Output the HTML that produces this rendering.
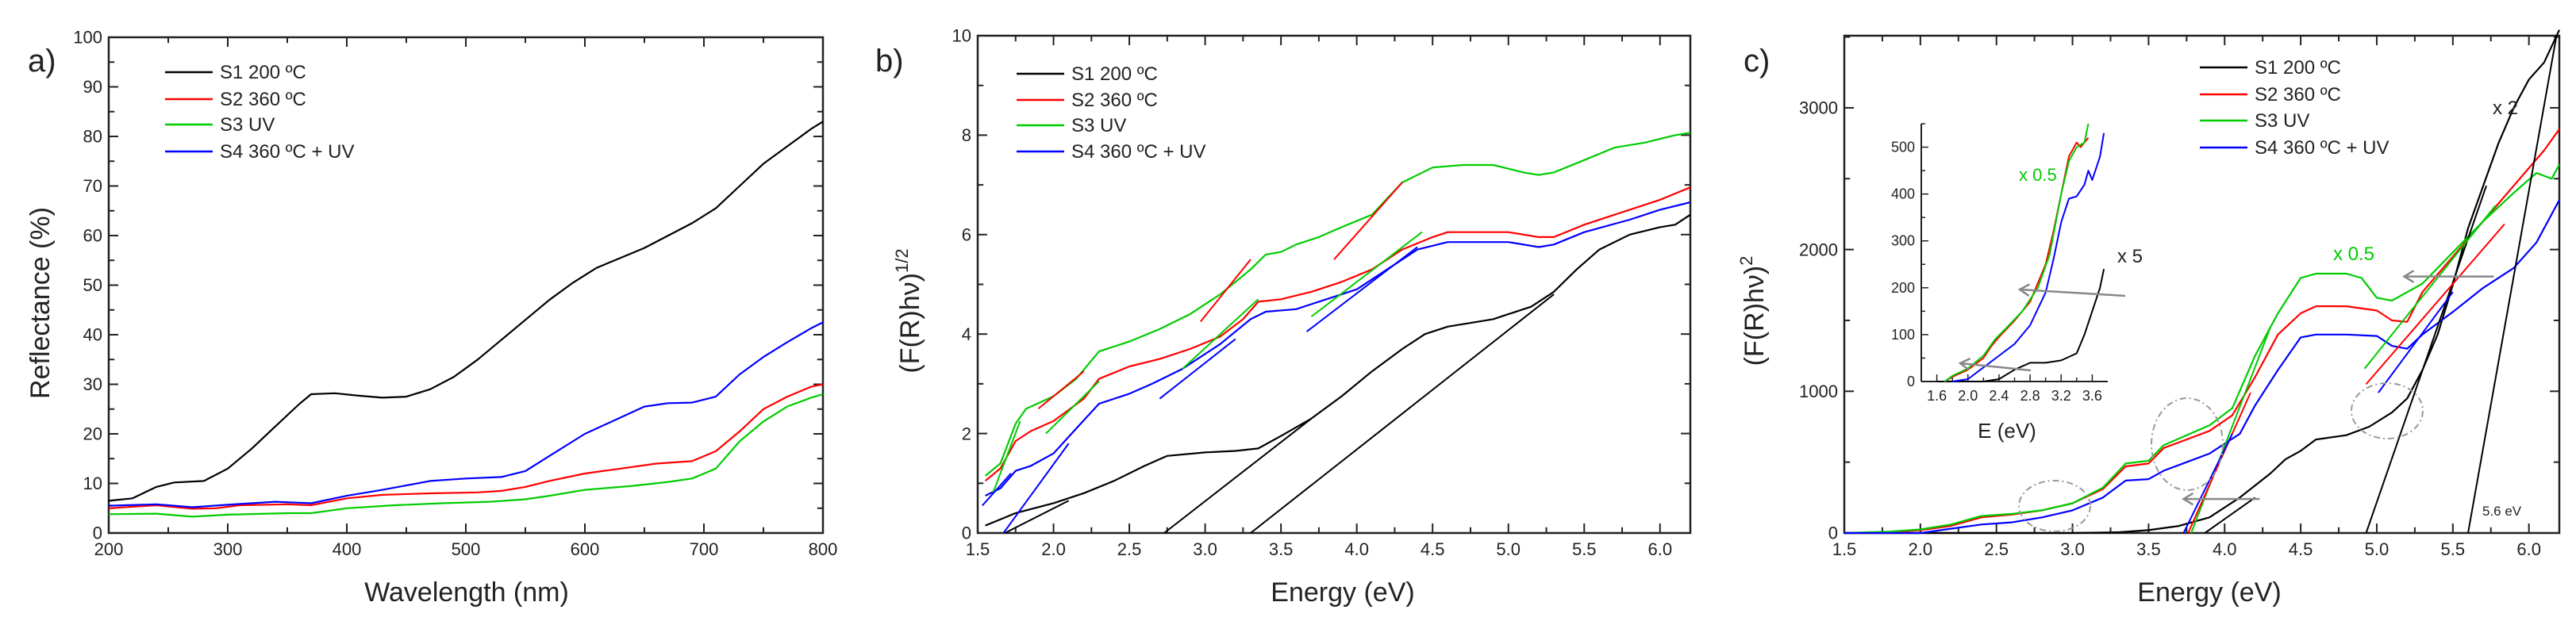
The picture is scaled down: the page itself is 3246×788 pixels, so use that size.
<!DOCTYPE html>
<html><head><meta charset="utf-8"><style>
html,body{margin:0;padding:0;background:#fff;}
svg{display:block;font-family:"Liberation Sans",sans-serif;}
</style></head><body>
<svg id="fig" width="3246" height="788" viewBox="0 0 3246 788" xmlns="http://www.w3.org/2000/svg"></svg>
<script>
// ---------- Panel a data ----------
const aX_S1=[200,220,240,255,280,300,320,340,360,370,390,410,430,450,470,490,510,530,550,570,590,610,630,650,670,690,710,730,750,770,790,800];
const aY_S1=[6.5,7,9.3,10.2,10.5,13,17,21.5,26,28,28.2,27.7,27.3,27.5,29,31.5,35,39,43,47,50.5,53.5,55.5,57.5,60,62.5,65.5,70,74.5,78,81.5,83];
const aX_S2=[200,240,270,290,310,350,370,400,430,470,510,530,550,570,600,630,660,690,710,730,750,770,790,800];
const aY_S2=[5,5.6,4.9,5,5.6,5.8,5.6,7,7.7,8,8.2,8.5,9.3,10.5,12,13,14,14.5,16.5,20.5,25,27.5,29.5,30];
const aX_S3=[200,240,270,300,350,370,400,440,480,520,550,570,600,640,670,690,710,730,750,770,790,800];
const aY_S3=[3.8,3.9,3.3,3.7,4,4,5,5.6,6,6.3,6.8,7.5,8.7,9.5,10.3,11,13,18.5,22.5,25.5,27.3,28];
const aX_S4=[200,240,270,300,340,370,400,430,470,500,530,550,570,600,630,650,670,690,710,730,750,770,790,800];
const aY_S4=[5.5,5.8,5.2,5.7,6.3,6,7.5,8.7,10.5,11,11.3,12.5,15.5,20,23.3,25.5,26.2,26.3,27.5,32,35.5,38.5,41.3,42.5];
const aXTicks=[200,300,400,500,600,700,800];
const aYTicks=[0,10,20,30,40,50,60,70,80,90,100];
// ---------- Panel b data ----------
const bX_S1=[1.55,1.75,2.0,2.2,2.4,2.6,2.75,3.0,3.2,3.35,3.5,3.7,3.9,4.1,4.3,4.45,4.6,4.7,4.9,5.0,5.15,5.3,5.45,5.6,5.8,6.0,6.1,6.2];
const bY_S1=[0.15,0.4,0.6,0.8,1.05,1.35,1.55,1.62,1.65,1.7,1.95,2.3,2.75,3.25,3.7,4.0,4.15,4.2,4.3,4.4,4.55,4.85,5.3,5.7,6.0,6.15,6.2,6.4];
const bX_S2=[1.55,1.65,1.75,1.85,2.0,2.2,2.3,2.5,2.7,2.9,3.1,3.25,3.35,3.5,3.7,3.9,4.1,4.3,4.5,4.6,4.8,5.0,5.2,5.3,5.5,5.8,6.0,6.2];
const bY_S2=[1.05,1.3,1.85,2.05,2.25,2.7,3.1,3.35,3.5,3.7,3.95,4.3,4.65,4.7,4.85,5.05,5.3,5.7,5.95,6.05,6.05,6.05,5.95,5.95,6.2,6.5,6.7,6.95];
const bX_S3=[1.55,1.65,1.75,1.82,2.0,2.15,2.3,2.5,2.7,2.9,3.1,3.3,3.4,3.5,3.6,3.75,3.9,4.1,4.3,4.5,4.7,4.9,5.1,5.2,5.3,5.5,5.7,5.9,6.1,6.2];
const bY_S3=[1.15,1.4,2.2,2.5,2.75,3.1,3.65,3.85,4.1,4.4,4.8,5.3,5.6,5.65,5.8,5.95,6.15,6.4,7.05,7.35,7.4,7.4,7.25,7.2,7.25,7.5,7.75,7.85,8.0,8.05];
const bX_S4=[1.55,1.65,1.75,1.85,2.0,2.15,2.3,2.5,2.65,2.85,3.1,3.3,3.4,3.6,3.8,4.0,4.2,4.4,4.6,4.8,5.0,5.2,5.3,5.5,5.8,6.0,6.2];
const bY_S4=[0.75,0.9,1.25,1.35,1.6,2.1,2.6,2.8,3.0,3.3,3.8,4.3,4.45,4.5,4.7,4.9,5.3,5.7,5.85,5.85,5.85,5.75,5.8,6.05,6.3,6.5,6.65];
const bFitColors=["#000","#000","#000","red","red","red","#0c0","#0c0","#0c0","#0c0","blue","blue","blue","blue"];
const bFitX1=[1.68,2.73,3.3,1.9,2.97,3.85,1.6,1.95,2.85,3.7,1.53,1.67,2.7,3.67];
const bFitY1=[0,0,0,2.5,4.25,5.5,0.8,2.0,3.3,4.35,0.55,0,2.7,4.05];
const bFitX2=[2.1,3.7,5.3,2.2,3.3,4.3,1.78,2.3,3.35,4.43,1.72,2.1,3.2,4.4];
const bFitY2=[0.65,2.3,4.8,3.25,5.5,7.05,2.25,3.05,4.7,6.05,1.2,1.8,3.9,5.75];
const bXTicks=[1.5,2.0,2.5,3.0,3.5,4.0,4.5,5.0,5.5,6.0];
const bYTicks=[0,2,4,6,8,10];
// ---------- Panel c data ----------
const cX_S1=[1.5,3.0,3.3,3.5,3.7,3.9,4.1,4.3,4.4,4.5,4.6,4.8,4.95,5.1,5.2,5.3,5.4,5.5,5.6,5.7,5.8,5.9,6.0,6.1,6.2];
const cY_S1=[0,0,5,20,50,110,250,420,520,580,660,690,750,850,950,1150,1400,1750,2150,2450,2750,3000,3200,3320,3550];
const cX_S2=[1.5,1.8,2.0,2.2,2.4,2.6,2.8,3.0,3.2,3.35,3.5,3.6,3.75,3.9,4.05,4.2,4.35,4.5,4.6,4.8,5.0,5.1,5.2,5.3,5.5,5.7,5.9,6.1,6.2];
const cY_S2=[0,5,20,50,110,130,160,210,310,470,490,600,660,720,830,1100,1400,1550,1600,1600,1570,1500,1490,1700,1950,2200,2450,2700,2850];
const cX_S3=[1.5,1.8,2.0,2.2,2.4,2.6,2.8,3.0,3.2,3.35,3.5,3.6,3.75,3.9,4.05,4.2,4.35,4.5,4.6,4.8,4.9,5.0,5.1,5.3,5.5,5.7,5.9,6.05,6.15,6.2];
const cY_S3=[0,10,25,60,120,135,160,210,320,490,510,620,690,760,880,1250,1550,1800,1830,1830,1800,1660,1640,1760,1980,2200,2400,2540,2500,2600];
const cX_S4=[1.5,2.0,2.2,2.4,2.6,2.8,3.0,3.2,3.35,3.5,3.6,3.75,3.9,4.1,4.2,4.35,4.5,4.6,4.8,5.0,5.1,5.2,5.3,5.5,5.7,5.9,6.05,6.2];
const cY_S4=[0,0,30,60,75,110,160,250,370,380,440,500,560,700,900,1150,1380,1400,1400,1390,1320,1300,1400,1560,1730,1870,2050,2350];
const cFitColors=["#0c0","red","blue","#000","#000","#000","#0c0","red","blue"];
const cFitX1=[3.78,3.76,3.73,3.87,4.93,5.6,4.92,4.93,5.01];
const cFitY1=[0,0,0,0,0,0,1160,1050,990];
const cFitX2=[4.3,4.17,4.05,4.2,5.72,6.18,5.78,5.84,5.5];
const cFitY2=[1450,990,700,250,2450,3500,2310,2180,1700];
const cXTicks=[1.5,2.0,2.5,3.0,3.5,4.0,4.5,5.0,5.5,6.0];
const cYTicks=[0,1000,2000,3000];
// inset
const iX_S1=[1.6,2.2,2.4,2.6,2.8,3.0,3.2,3.4,3.5,3.6,3.7,3.75];
const iY_S1=[0,0,5,25,40,40,45,60,100,150,200,240];
const iX_S2=[1.7,1.8,2.0,2.2,2.3,2.4,2.6,2.8,3.0,3.1,3.2,3.3,3.4,3.45,3.5,3.55];
const iY_S2=[0,10,25,50,75,95,130,170,250,320,400,480,510,500,510,520];
const iX_S3=[1.7,1.8,2.0,2.2,2.35,2.5,2.7,2.9,3.05,3.2,3.3,3.4,3.5,3.55];
const iY_S3=[0,12,28,55,90,115,150,200,270,400,470,500,510,550];
const iX_S4=[1.8,2.0,2.2,2.4,2.6,2.8,3.0,3.1,3.2,3.3,3.4,3.5,3.55,3.6,3.7,3.75];
const iY_S4=[0,5,30,55,80,120,190,260,340,390,395,420,450,430,480,530];
const iXTicks=[1.6,2.0,2.4,2.8,3.2,3.6];
const iYTicks=[0,100,200,300,400,500];

const NS="http://www.w3.org/2000/svg";
const svg=document.getElementById('fig');
function mk(tag,attrs,parent){const e=document.createElementNS(NS,tag);for(const k in attrs)e.setAttribute(k,attrs[k]);(parent||svg).appendChild(e);return e;}
function txt(s,x,y,size,attrs,parent){const e=mk('text',Object.assign({x:x,y:y,'font-size':size,fill:'#222'},attrs||{}),parent);e.textContent=s;return e;}
function axes(name,L,R,T,B,x0,x1,y0,y1){
  const g=mk('g',{});
  
  
  const sx=v=>L+(v-x0)/(x1-x0)*(R-L), sy=v=>B-(v-y0)/(y1-y0)*(B-T);
  return {g,sx,sy,L,R,T,B};
}
function frame(ax,xt,yt,xminor,yminor,fmtX,fmtY,fs,tl){
  const g=ax.g;
  mk('rect',{x:ax.L,y:ax.T,width:ax.R-ax.L,height:ax.B-ax.T,fill:'none',stroke:'#222','stroke-width':2.5},g);
  const ticks=(vals,len,isX)=>vals.forEach(v=>{
    if(isX){const x=ax.sx(v);mk('line',{x1:x,x2:x,y1:ax.B,y2:ax.B-len,stroke:'#222','stroke-width':2},g);mk('line',{x1:x,x2:x,y1:ax.T,y2:ax.T+len,stroke:'#222','stroke-width':2},g);}
    else{const y=ax.sy(v);mk('line',{x1:ax.L,x2:ax.L+len,y1:y,y2:y,stroke:'#222','stroke-width':2},g);mk('line',{x1:ax.R,x2:ax.R-len,y1:y,y2:y,stroke:'#222','stroke-width':2},g);}
  });
  ticks(xt,tl,true);ticks(yt,tl,false);ticks(xminor,tl*0.6,true);ticks(yminor,tl*0.6,false);
  xt.forEach(v=>{const t=txt(fmtX(v),ax.sx(v),ax.B+fs+6,fs,{'text-anchor':'middle'},g);});
  yt.forEach(v=>{const t=txt(fmtY(v),ax.L-8,ax.sy(v)+fs*0.35,fs,{'text-anchor':'end'},g);});
}
function series(ax,xs,ys,color,name,w){
  const d=xs.map((x,i)=>(i?'L':'M')+ax.sx(x).toFixed(1)+','+ax.sy(ys[i]).toFixed(1)).join('');
  const p=mk('path',{d:d,fill:'none',stroke:color,'stroke-width':w||2.2,'stroke-linejoin':'round'},ax.g);
  
  
}
function fits(ax,cols,x1,y1,x2,y2,prefix){
  cols.forEach((c,i)=>{const l=mk('line',{x1:ax.sx(x1[i]),y1:ax.sy(y1[i]),x2:ax.sx(x2[i]),y2:ax.sy(y2[i]),stroke:c,'stroke-width':2},ax.g);
    
    });
}
function legend(x,ys,labels,colors,prefix){
  labels.forEach((s,i)=>{const g=mk('g',{});
    
    
    mk('line',{x1:x,x2:x+60,y1:ys[i],y2:ys[i],stroke:colors[i],'stroke-width':2.5},g);
    txt(s,x+69,ys[i]+8,24,{},g);});
}
const cols=['#000','red','#0c0','blue'];
const labs=['S1 200 ºC','S2 360 ºC','S3 UV','S4 360 ºC + UV'];
const range=(a,b,s)=>{const r=[];for(let v=a;v<=b+1e-9;v+=s)r.push(+v.toFixed(4));return r;};

// Panel a
const A=axes('panel-a-reflectance',137,1037,47,672,200,800,0,100);
frame(A,aXTicks,aYTicks,range(250,750,100),range(5,95,10),v=>v,v=>v,22,12);
series(A,aX_S1,aY_S1,cols[0],'s1-reflectance');series(A,aX_S2,aY_S2,cols[1],'s2-reflectance');
series(A,aX_S3,aY_S3,cols[2],'s3-reflectance');series(A,aX_S4,aY_S4,cols[3],'s4-reflectance');
legend(208,[91,125,157,191],labs,cols,'a');
txt('a)',35,90,40,{});
txt('Wavelength (nm)',588,758,34,{'text-anchor':'middle',});
txt('Reflectance (%)',0,0,34,{'text-anchor':'middle',transform:'translate(62,382) rotate(-90)',});

// Panel b
const Bp=axes('panel-b-tauc-indirect',1232,2130,45,672,1.5,6.2,0,10);
frame(Bp,bXTicks,bYTicks,range(1.75,6.0,0.25).filter(v=>Math.abs(v*2-Math.round(v*2))>0.01),range(1,9,2),v=>v.toFixed(1),v=>v,22,12);
series(Bp,bX_S1,bY_S1,cols[0],'s1-tauc');series(Bp,bX_S2,bY_S2,cols[1],'s2-tauc');
series(Bp,bX_S3,bY_S3,cols[2],'s3-tauc');series(Bp,bX_S4,bY_S4,cols[3],'s4-tauc');
fits(Bp,bFitColors,bFitX1,bFitY1,bFitX2,bFitY2,'b');
legend(1281,[93,126,158,191],labs,cols,'b');
txt('b)',1103,90,40,{});
txt('Energy (eV)',1692,758,34,{'text-anchor':'middle',});
(function(){const t=mk('text',{'font-size':34,fill:'#222','text-anchor':'middle',transform:'translate(1158,392) rotate(-90)'});

t.innerHTML='(F(R)hν)<tspan font-size="22" dy="-14">1/2</tspan>';})();

// Panel c
const C=axes('panel-c-tauc-direct',2324,3225,45,672,1.5,6.2,0,3509);
frame(C,cXTicks,cYTicks,range(1.75,6.0,0.5),[500,1500,2500,3500].filter(v=>v<3509),v=>v.toFixed(1),v=>v,22,12);
series(C,cX_S1,cY_S1,cols[0],'s1-tauc-direct');series(C,cX_S2,cY_S2,cols[1],'s2-tauc-direct');
series(C,cX_S3,cY_S3,cols[2],'s3-tauc-direct');series(C,cX_S4,cY_S4,cols[3],'s4-tauc-direct');
fits(C,cFitColors,cFitX1,cFitY1,cFitX2,cFitY2,'c');
legend(2772,[85,119,152,186],labs,cols,'c');
txt('c)',2197,90,40,{});
txt('Energy (eV)',2784,758,34,{'text-anchor':'middle',});
(function(){const t=mk('text',{'font-size':34,fill:'#222','text-anchor':'middle',transform:'translate(2222,392) rotate(-90)'});

t.innerHTML='(F(R)hν)<tspan font-size="22" dy="-14">2</tspan>';})();
// arrows & circles
function arrow(x1,y1,x2,y2,name){const g=mk('g',{});
  
  mk('line',{x1,y1,x2,y2,stroke:'#888','stroke-width':2.5},g);
  const a=Math.atan2(y2-y1,x2-x1),h=14;
  mk('path',{d:`M${x2+h*Math.cos(a+2.6)},${y2+h*Math.sin(a+2.6)}L${x2},${y2}L${x2+h*Math.cos(a-2.6)},${y2+h*Math.sin(a-2.6)}`,fill:'none',stroke:'#888','stroke-width':2.5},g);}
arrow(C.sx(5.77),C.sy(1810),C.sx(5.18),C.sy(1810),'arrow-right');
arrow(C.sx(4.23),C.sy(240),C.sx(3.73),C.sy(240),'arrow-middle');
[[2589,638,45,32],[2756,560,45,58],[3008,518,45,35]].forEach(c=>{const e=mk('ellipse',{cx:c[0],cy:c[1],rx:c[2],ry:c[3],fill:'none',stroke:'#999','stroke-width':2,'stroke-dasharray':'8 4 2 4'});
  });
txt('x 2',3141,144,24,{});
txt('x 0.5',2940,328,24,{fill:'#0c0',});
txt('5.6 eV',3128,650,17,{});

// Inset
const I=axes('inset',2421,2656,156,481,1.4,3.8,0,550);
(function(){const g=I.g;
  mk('line',{x1:I.L,y1:I.T,x2:I.L,y2:I.B,stroke:'#222','stroke-width':2},g);
  mk('line',{x1:I.L,y1:I.B,x2:I.R,y2:I.B,stroke:'#222','stroke-width':2},g);
  range(1.6,3.6,0.2).forEach(v=>mk('line',{x1:I.sx(v),x2:I.sx(v),y1:I.B,y2:I.B-(Math.abs(((v-1.6)/0.4)-Math.round((v-1.6)/0.4))<0.01?9:5),stroke:'#222','stroke-width':1.5},g));
  range(0,550,50).forEach(v=>mk('line',{x1:I.L,x2:I.L+(v%100===0?9:5),y1:I.sy(v),y2:I.sy(v),stroke:'#222','stroke-width':1.5},g));
  iXTicks.forEach(v=>{const t=txt(v.toFixed(1),I.sx(v),I.B+24,18,{'text-anchor':'middle'},g);});
  iYTicks.forEach(v=>{const t=txt(v,I.L-8,I.sy(v)+6,18,{'text-anchor':'end'},g);});
})();
series(I,iX_S1,iY_S1,cols[0],'inset-s1',2);series(I,iX_S2,iY_S2,cols[1],'inset-s2',2);
series(I,iX_S3,iY_S3,cols[2],'inset-s3',2);series(I,iX_S4,iY_S4,cols[3],'inset-s4',2);
arrow(2678,373,2545,365,'inset-arrow-upper');
arrow(2559,467,2470,458,'inset-arrow-lower');
txt('E (eV)',2529,552,26,{'text-anchor':'middle',});
txt('x 5',2668,331,24,{});
txt('x 0.5',2544,228,22,{fill:'#0c0',});
</script>
</body></html>
